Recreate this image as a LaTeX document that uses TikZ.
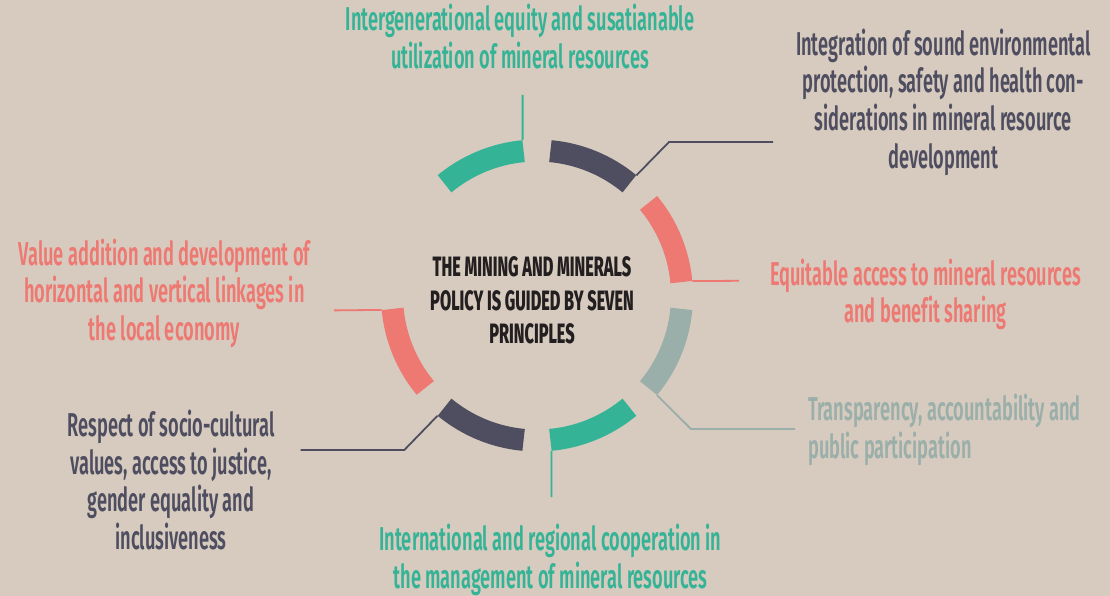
\documentclass[tikz,border=0pt]{standalone}
\usepackage{fontspec}
\setmainfont{Fira Sans}[UprightFont=* SemiBold, BoldFont=* ExtraBold, FakeStretch=0.552, Ligatures=NoCommon]
\newfontfamily\titlefont{Fira Sans}[UprightFont=* ExtraBold, FakeStretch=0.58]
\definecolor{bgc}{HTML}{D6CBBE}
\definecolor{cgreen}{HTML}{34B396}
\definecolor{cdark}{HTML}{4F4E61}
\definecolor{cred}{HTML}{EE7872}
\definecolor{cgray}{HTML}{9AAEAA}
\definecolor{ctext}{HTML}{231F20}
\tikzset{
  seg/.style={line width=22pt},
  conn/.style={line width=1.8pt},
  lbl/.style={inner sep=0pt, align=center, font=\fontsize{33}{37.5}\selectfont},
  title/.style={inner sep=0pt, align=center, text=ctext, font=\titlefont\fontsize{28}{33.3}\selectfont}
}
\begin{document}
\begin{tikzpicture}[x=1pt,y=1pt]
\fill[bgc] (0,0) rectangle (1110,-596);
\useasboundingbox (0,0) rectangle (1110,-596);
\coordinate (C) at (537,-295.5);
% ring segments
\draw[seg,cgreen] ([shift={(95.3:145)}]C) arc[start angle=95.3,end angle=129.6,radius=145];
\draw[seg,cdark] ([shift={(50.4:145)}]C) arc[start angle=50.4,end angle=84.7,radius=145];
\draw[seg,cred] ([shift={(5.3:145)}]C) arc[start angle=5.3,end angle=39.7,radius=145];
\draw[seg,cgray] ([shift={(-5.3:145)}]C) arc[start angle=-5.3,end angle=-39.7,radius=145];
\draw[seg,cgreen] ([shift={(-50.4:145)}]C) arc[start angle=-50.4,end angle=-84.7,radius=145];
\draw[seg,cdark] ([shift={(-95.3:145)}]C) arc[start angle=-95.3,end angle=-129.6,radius=145];
\draw[seg,cred] ([shift={(-140.4:145)}]C) arc[start angle=-140.4,end angle=-174.7,radius=145];
% connector anchors
\coordinate (g1) at ([shift={(95.3:156)}]C);
\coordinate (g1e) at (522.6,-95);
\coordinate (d1) at ([shift={(50.4:156)}]C);
\coordinate (d1b) at (669,-142);
\coordinate (d1e) at (773,-142);
\coordinate (r1) at ([shift={(5.3:156)}]C);
\coordinate (r1e) at (739,-280.8);
\coordinate (s1) at ([shift={(-39.7:156)}]C);
\coordinate (s1b) at (691,-429);
\coordinate (s1e) at (795,-429);
\coordinate (g2) at ([shift={(-84.7:156)}]C);
\coordinate (g2e) at (551.4,-497);
\coordinate (d2) at ([shift={(-129.6:156)}]C);
\coordinate (d2b) at (404.3,-450);
\coordinate (d2e) at (300.7,-450);
\coordinate (r2) at ([shift={(-174.7:156)}]C);
\coordinate (r2e) at (334,-310.4);
% connectors
\draw[conn,cgreen] (g1) -- (g1e);
\draw[conn,cdark] (d1) -- (d1b) -- (d1e);
\draw[conn,cred] (r1) -- (r1e);
\draw[conn,cgray] (s1) -- (s1b) -- (s1e);
\draw[conn,cgreen] (g2) -- (g2e);
\draw[conn,cdark] (d2) -- (d2b) -- (d2e);
\draw[conn,cred] (r2) -- (r2e);
% labels (anchor = baseline of last line)
\node[title,anchor=base] (ttl) at (532,-343.3) {THE MINING AND MINERALS\\POLICY IS GUIDED BY SEVEN\\PRINCIPLES};
\node[lbl,text=cgreen,anchor=base] (t1) at (520,-68.3) {Intergenerational equity and susatianable\\utilization of mineral resources};
\node[lbl,text=cdark,anchor=base] (t2) at (943.3,-168) {Integration of sound environmental\\protection, safety and health con-\\siderations in mineral resource\\development};
\node[lbl,text=cred,anchor=base] (t3) at (925.5,-322.7) {Equitable access to mineral resources\\and benefit sharing};
\node[lbl,text=cgray,anchor=base west,align=left] (t4) at (808,-458.3) {Transparency, accountability and\\public participation};
\node[lbl,text=cgreen,anchor=base] (t5) at (550.5,-588.3) {International and regional cooperation in\\the management of mineral resources};
\node[lbl,text=cdark,anchor=base] (t6) at (171,-549.3) {Respect of socio-cultural\\values, access to justice,\\gender equality and\\inclusiveness};
\node[lbl,text=cred,anchor=base] (t7) at (164.4,-340) {Value addition and development of\\horizontal and vertical linkages in\\the local economy};
\end{tikzpicture}
\end{document}
